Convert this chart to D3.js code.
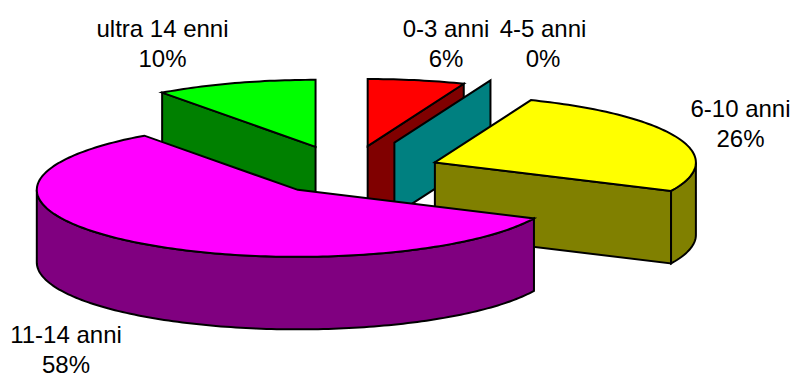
<!DOCTYPE html>
<html>
<head>
<meta charset="utf-8">
<style>
  html, body { margin: 0; padding: 0; background: #fff; }
  svg { display: block; }
  text { font-family: "Liberation Sans", Arial, sans-serif; font-size: 24px; fill: #000; }
</style>
<script src="https://cdn.jsdelivr.net/npm/d3@7/dist/d3.min.js"></script>
</head>
<body>
<svg id="chart" width="793" height="373"></svg>
<script>
// Age bands and their shares, clockwise from twelve o'clock
const categories = ["0-3 anni", "4-5 anni", "6-10 anni", "11-14 anni", "ultra 14 enni"];
const shares = [6, 0, 26, 58, 10];

// Top and side colours for each band
const topColours = ["#ff0000", "#008080", "#ffff00", "#ff00ff", "#00ff00"];
const sideColours = ["#800000", "#008080", "#808000", "#800080", "#008000"];

// How far each slice is pulled out of the pie, per screen axis
const pullX = [1, 1.2, 0.89, 0.75, 1];
const pullY = [1, 1.2, 0.89, 1, 1];

// Back-to-front painting order
const paintOrder = [4, 0, 1, 2, 3];

// Label anchor of each band (centre x, first baseline y)
const labelX = [446, 543, 740.5, 66, 162.5];
const labelY = [37, 37, 117, 343, 37];

const rimX = 261, rimY = 67, depth = 72.5, lineGap = 29.5;
const centreX = 348, centreY = 170.6, pullXAmount = 105, pullYAmount = 25;

const svg = d3.select("#chart");
const pie = d3.pie().value(d => d).sort(null);
const slices = pie(shares);

// Ellipse projection of a unit-circle direction (angle clockwise from north)
const ex = d3.scaleLinear().domain([-1, 1]).range([-rimX, rimX]);
const ey = d3.scaleLinear().domain([-1, 1]).range([rimY, -rimY]);
const path = d3.line();

function arcPoints(apex, a0, a1, drop) {
  const steps = Math.max(2, Math.ceil(Math.abs(a1 - a0) / 0.02));
  return d3.range(steps + 1).map(i => {
    const a = a0 + (a1 - a0) * i / steps;
    return [apex[0] + ex(Math.sin(a)), apex[1] + ey(Math.cos(a)) + drop];
  });
}

function drawShape(points, fill) {
  svg.append("path")
    .attr("d", path(points) + "Z")
    .attr("fill", fill)
    .attr("stroke", "#000")
    .attr("stroke-width", 2)
    .attr("stroke-linejoin", "miter");
}

function cutFace(apex, a, fill) {
  const rim = arcPoints(apex, a, a, 0)[0];
  drawShape([apex, rim, [rim[0], rim[1] + depth], [apex[0], apex[1] + depth]], fill);
}

paintOrder.forEach(i => {
  const s = slices[i];
  const mid = (s.startAngle + s.endAngle) / 2;
  const apex = [
    centreX + pullXAmount * pullX[i] * Math.sin(mid),
    centreY - pullYAmount * pullY[i] * Math.cos(mid)
  ];

  // Cut faces turned towards the viewer
  if (Math.sin(s.startAngle) < -1e-6) cutFace(apex, s.startAngle, sideColours[i]);
  if (Math.sin(s.endAngle) > 1e-6) cutFace(apex, s.endAngle, sideColours[i]);

  // Outer wall, only the part on the front half of the rim
  const wall0 = Math.max(s.startAngle, Math.PI / 2);
  const wall1 = Math.min(s.endAngle, Math.PI * 1.5);
  if (wall1 > wall0) {
    const upper = arcPoints(apex, wall0, wall1, 0);
    const lower = arcPoints(apex, wall1, wall0, depth);
    drawShape(upper.concat(lower), sideColours[i]);
  }

  // Top face
  if (s.endAngle > s.startAngle) {
    drawShape([apex].concat(arcPoints(apex, s.startAngle, s.endAngle, 0)), topColours[i]);
  }
});

// Two-line labels: band name, then its share
categories.forEach((name, i) => {
  const t = svg.append("text").attr("text-anchor", "middle");
  t.append("tspan").attr("x", labelX[i]).attr("y", labelY[i]).text(name);
  t.append("tspan").attr("x", labelX[i]).attr("y", labelY[i] + lineGap).text(d3.format("d")(shares[i]) + "%");
});
</script>
</body>
</html>
